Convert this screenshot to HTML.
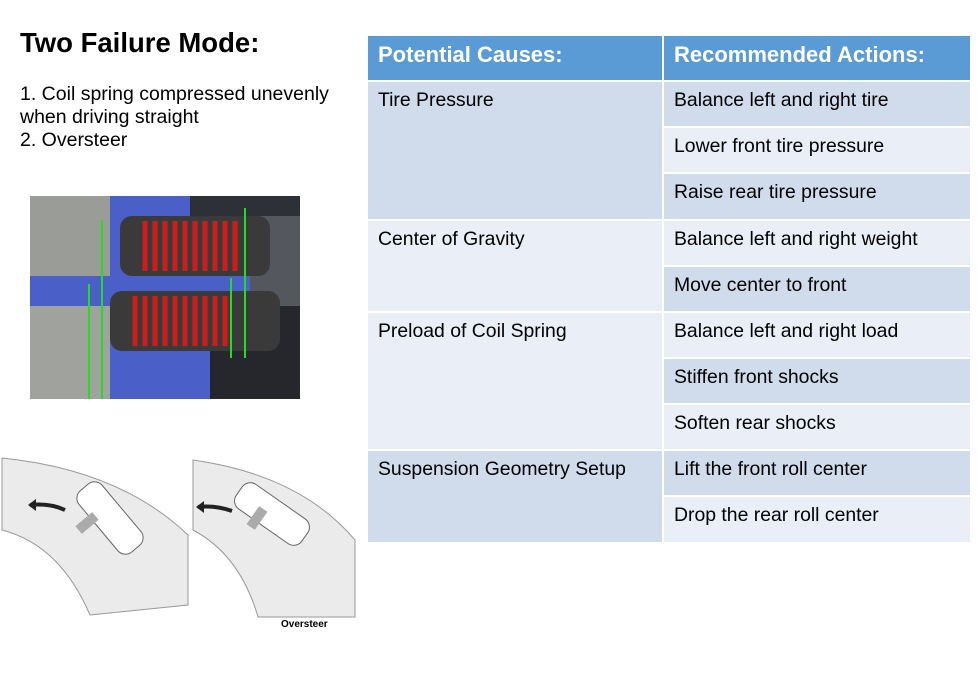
<!DOCTYPE html>
<html><head><meta charset="utf-8"><style>
body{margin:0;width:980px;height:673px;background:#fff;position:relative;overflow:hidden;font-family:"Liberation Sans",Arial,sans-serif}
.a{position:absolute}
.c{position:absolute;box-sizing:border-box;padding:7px 10px;font-size:19.4px;color:#000}
.D{background:#d0dcec}.L{background:#e9eef7}
.h{background:#5b9bd5;color:#fff;font-weight:bold;font-size:22px;padding:6px 10px}
</style></head><body>
<div class="a" style="left:20px;top:27px;font-size:27.5px;font-weight:bold">Two Failure Mode:</div>
<div class="a" style="left:20px;top:83px;font-size:19.5px;line-height:23px">1. Coil spring compressed unevenly<br>when driving straight<br>2. Oversteer</div>

<svg class="a" style="left:30px;top:196px" width="270" height="203" viewBox="0 0 270 203">
<rect width="270" height="203" fill="#4a5fc8"/>
<rect x="0" y="0" width="80" height="80" fill="#9a9c98"/>
<rect x="0" y="110" width="80" height="93" fill="#a0a29e"/>
<rect x="160" y="0" width="110" height="35" fill="#2e3038"/>
<rect x="220" y="20" width="50" height="183" fill="#55575e"/>
<rect x="180" y="110" width="90" height="93" fill="#25272d"/>
<rect x="90" y="20" width="150" height="60" rx="12" fill="#3a3a3a"/>
<rect x="80" y="95" width="170" height="60" rx="12" fill="#3a3a3a"/>
<g stroke="#d11a1a" stroke-width="5" fill="none">
<path d="M115 25v50M125 25v50M135 25v50M145 25v50M155 25v50M165 25v50M175 25v50M185 25v50M195 25v50M205 25v50"/>
<path d="M105 100v50M115 100v50M125 100v50M135 100v50M145 100v50M155 100v50M165 100v50M175 100v50M185 100v50M195 100v50"/>
</g>
<g stroke="#22dd22" stroke-width="2" fill="none">
<path d="M72 24v180M59 88v115M201 82v80M215 12v150"/>
</g>
</svg>

<svg class="a" style="left:0;top:455px" width="360" height="180" viewBox="0 0 360 180">
<path d="M2 3 Q120 15 188 80 L188 150 L90 160 Q60 90 2 75 Z" fill="#ebebeb" stroke="#999"/>
<path d="M193 5 Q300 20 355 85 L355 162 L258 162 Q240 100 193 75 Z" fill="#ebebeb" stroke="#999"/>
<g fill="#fff" stroke="#666">
<rect x="70" y="48" width="80" height="30" rx="10" transform="rotate(50 110 63)"/>
<rect x="232" y="44" width="80" height="30" rx="10" transform="rotate(35 272 59)"/>
</g>
<g fill="#aaa"><rect x="82" y="57" width="10" height="22" transform="rotate(50 87 68)"/><rect x="252" y="52" width="10" height="22" transform="rotate(35 257 63)"/></g>
<path d="M30 50 Q50 48 65 55" stroke="#222" stroke-width="4" fill="none"/>
<path d="M28 50 l8 -6 v12z" fill="#222"/>
<path d="M198 52 Q215 50 232 56" stroke="#222" stroke-width="4" fill="none"/>
<path d="M196 52 l8 -6 v12z" fill="#222"/>
<text x="281" y="172" font-size="10" font-weight="bold" font-family="Liberation Sans">Oversteer</text>
</svg>

<div class="c h" style="left:368px;top:36px;width:294px;height:44px">Potential Causes:</div>
<div class="c h" style="left:664px;top:36px;width:306px;height:44px">Recommended Actions:</div>

<div class="c D" style="left:368px;top:82px;width:294px;height:137px">Tire Pressure</div>
<div class="c L" style="left:368px;top:221px;width:294px;height:90px">Center of Gravity</div>
<div class="c L" style="left:368px;top:313px;width:294px;height:136px">Preload of Coil Spring</div>
<div class="c D" style="left:368px;top:451px;width:294px;height:91px">Suspension Geometry Setup</div>

<div class="c D" style="left:664px;top:82px;width:306px;height:44px">Balance left and right tire</div>
<div class="c L" style="left:664px;top:128px;width:306px;height:44px">Lower front tire pressure</div>
<div class="c D" style="left:664px;top:174px;width:306px;height:45px">Raise rear tire pressure</div>
<div class="c L" style="left:664px;top:221px;width:306px;height:44px">Balance left and right weight</div>
<div class="c D" style="left:664px;top:267px;width:306px;height:44px">Move center to front</div>
<div class="c L" style="left:664px;top:313px;width:306px;height:44px">Balance left and right load</div>
<div class="c D" style="left:664px;top:359px;width:306px;height:44px">Stiffen front shocks</div>
<div class="c L" style="left:664px;top:405px;width:306px;height:44px">Soften rear shocks</div>
<div class="c D" style="left:664px;top:451px;width:306px;height:44px">Lift the front roll center</div>
<div class="c L" style="left:664px;top:497px;width:306px;height:45px">Drop the rear roll center</div>
</body></html>
